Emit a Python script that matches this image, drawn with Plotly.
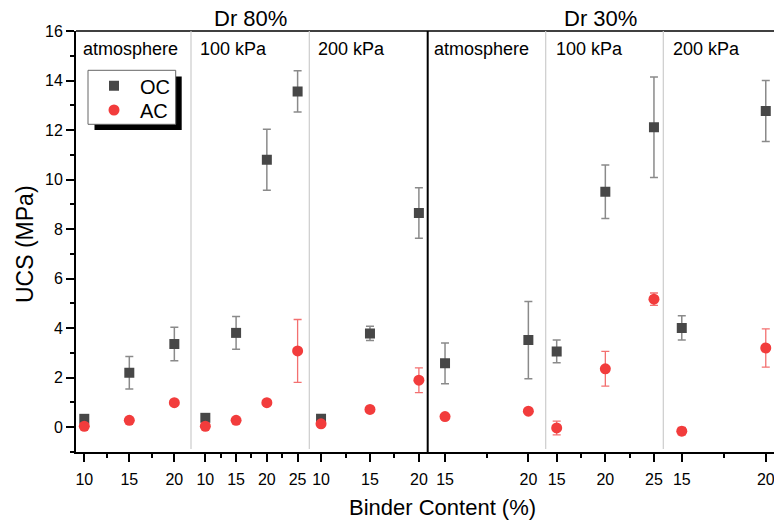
import plotly.graph_objects as go

# ---------------- data ----------------
density_groups = ["Dr 80%", "Dr 30%"]
pressure_labels = ["atmosphere", "100 kPa", "200 kPa", "atmosphere", "100 kPa", "200 kPa"]

binder_p1 = [10, 15, 20]
binder_p2 = [10, 15, 20, 25]
binder_p3 = [10, 15, 20]
binder_p4 = [15, 20]
binder_p5 = [15, 20, 25]
binder_p6 = [15, 20]

oc_p1 = [0.34, 2.20, 3.36]
oc_p2 = [0.38, 3.81, 10.80, 13.56]
oc_p3 = [0.34, 3.79, 8.65]
oc_p4 = [2.58, 3.52]
oc_p5 = [3.06, 9.51, 12.11]
oc_p6 = [4.01, 12.77]

oc_err_p1 = [0.10, 0.66, 0.68]
oc_err_p2 = [0.10, 0.66, 1.23, 0.83]
oc_err_p3 = [0.10, 0.29, 1.02]
oc_err_p4 = [0.82, 1.56]
oc_err_p5 = [0.46, 1.08, 2.03]
oc_err_p6 = [0.49, 1.23]

ac_p1 = [0.04, 0.28, 0.99]
ac_p2 = [0.04, 0.28, 0.99, 3.08]
ac_p3 = [0.14, 0.72, 1.90]
ac_p4 = [0.43, 0.65]
ac_p5 = [-0.03, 2.36, 5.17]
ac_p6 = [-0.16, 3.20]

ac_err_p1 = [0.10, 0.05, 0.05]
ac_err_p2 = [0.10, 0.05, 0.05, 1.27]
ac_err_p3 = [0.10, 0.10, 0.50]
ac_err_p4 = [0.05, 0.05]
ac_err_p5 = [0.28, 0.70, 0.25]
ac_err_p6 = [0.15, 0.77]

binders = [binder_p1, binder_p2, binder_p3, binder_p4, binder_p5, binder_p6]
oc_vals = [oc_p1, oc_p2, oc_p3, oc_p4, oc_p5, oc_p6]
oc_errs = [oc_err_p1, oc_err_p2, oc_err_p3, oc_err_p4, oc_err_p5, oc_err_p6]
ac_vals = [ac_p1, ac_p2, ac_p3, ac_p4, ac_p5, ac_p6]
ac_errs = [ac_err_p1, ac_err_p2, ac_err_p3, ac_err_p4, ac_err_p5, ac_err_p6]

# ---------------- layout helpers ----------------
W, H = 774, 521
L, R, T, B = 76, 0, 31, 69
PW, PH = W - L - R, H - T - B

def px_x(px):
    return (px - L) / PW

def px_y(py):
    return (H - B - py) / PH

panel_edges_px = [76, 191, 309.3, 427.7, 545.7, 663.3, 774]
x_ranges = [[9.08, 21.85], [7.67, 26.9], [8.8, 20.9], [13.96, 21.04], [13.87, 25.96], [13.9, 20.49]]

FONT = "Liberation Sans, Arial, sans-serif"
OC_COLOR = "#474747"
AC_COLOR = "#f23c3c"

fig = go.Figure()

for i in range(6):
    xa = "x" if i == 0 else f"x{i+1}"
    fig.add_trace(go.Scatter(
        x=binders[i], y=oc_vals[i], xaxis=xa, yaxis="y", mode="markers",
        name="OC", legendgroup="OC", showlegend=(i == 0), legend="legend",
        marker=dict(symbol="square", size=10, color=OC_COLOR),
        error_y=dict(type="data", array=oc_errs[i], color="#8a8a8a", thickness=1.5, width=4),
    ))
for i in range(6):
    xa = "x" if i == 0 else f"x{i+1}"
    fig.add_trace(go.Scatter(
        x=binders[i], y=ac_vals[i], xaxis=xa, yaxis="y", mode="markers",
        name="AC", legendgroup="AC", showlegend=(i == 0), legend="legend2",
        marker=dict(symbol="circle", size=11, color=AC_COLOR),
        error_y=dict(type="data", array=ac_errs[i], color="#f37070", thickness=1.3, width=4),
    ))

legend_style = dict(
    xanchor="left", yanchor="middle",
    bgcolor="rgba(0,0,0,0)", borderwidth=0,
    font=dict(size=20, family=FONT, color="black"), itemwidth=42,
)

layout = dict(
    width=W, height=H,
    margin=dict(l=L, r=R, t=T, b=B, pad=0),
    paper_bgcolor="white", plot_bgcolor="white",
    font=dict(family=FONT, size=16, color="black"),
    showlegend=True,
    legend=dict(x=px_x(88), y=px_y(85.7), **legend_style),
    legend2=dict(x=px_x(88), y=px_y(110), **legend_style),
    yaxis=dict(
        range=[-1, 16], anchor="x", tickmode="linear", tick0=0, dtick=2,
        showline=True, linecolor="black", linewidth=2,
        ticks="outside", ticklen=8, tickwidth=1.5, tickcolor="black",
        minor=dict(ticks="outside", ticklen=4, tickwidth=1.5, tickcolor="black", dtick=1, tick0=0),
        showgrid=False, zeroline=False, tickfont=dict(size=16),
    ),
)

for i in range(6):
    key = "xaxis" if i == 0 else f"xaxis{i+1}"
    layout[key] = dict(
        domain=[px_x(panel_edges_px[i]), px_x(panel_edges_px[i + 1])],
        range=x_ranges[i], anchor="y",
        tickmode="linear", tick0=0, dtick=5,
        showline=True, linecolor="black", linewidth=2,
        ticks="outside", ticklen=8, tickwidth=1.5, tickcolor="black",
        minor=dict(ticks="outside", ticklen=4, tickwidth=1.5, tickcolor="black", dtick=2.5, tick0=0),
        showgrid=False, zeroline=False, tickfont=dict(size=16),
        ticklabelstandoff=4, ticklabeloverflow="allow",
    )

fig.update_layout(**layout)

shapes = []
# top frame line
shapes.append(dict(type="line", xref="paper", yref="paper", x0=0, x1=1, y0=1, y1=1,
                   line=dict(color="black", width=1.5)))
# dividers
for j, px in enumerate(panel_edges_px[1:-1]):
    if j == 2:
        shapes.append(dict(type="line", xref="paper", yref="paper", x0=px_x(px), x1=px_x(px),
                           y0=0, y1=1, line=dict(color="black", width=2)))
    else:
        shapes.append(dict(type="line", xref="paper", yref="paper", x0=px_x(px), x1=px_x(px),
                           y0=px_y(449), y1=1, line=dict(color="#cccccc", width=1.2)))
# legend shadow and box
shapes.append(dict(type="rect", xref="paper", yref="paper", x0=px_x(94.5), x1=px_x(181.7),
                   y0=px_y(130), y1=px_y(76.5), fillcolor="black", line=dict(width=0), layer="above"))
shapes.append(dict(type="rect", xref="paper", yref="paper", x0=px_x(88), x1=px_x(175.7),
                   y0=px_y(124.3), y1=px_y(70.3), fillcolor="white",
                   line=dict(color="#666666", width=1), layer="above"))
fig.update_layout(shapes=shapes)

ann = []
label_shift = [5, 7, 7, 4, 8, 8]
for i, lab in enumerate(pressure_labels):
    xr = "x domain" if i == 0 else f"x{i+1} domain"
    ann.append(dict(text=lab, xref=xr, yref="paper", x=0, y=px_y(49), xanchor="left",
                    yanchor="middle", xshift=label_shift[i], showarrow=False,
                    font=dict(size=18, family=FONT, color="black")))
group_center_px = [250, 600]
for k, g in enumerate(density_groups):
    ann.append(dict(text=g, xref="paper", yref="paper", x=px_x(group_center_px[k]), y=px_y(19),
                    xanchor="center", yanchor="middle", showarrow=False,
                    font=dict(size=22, family=FONT, color="black")))
ann.append(dict(text="Binder Content (%)", xref="paper", yref="paper", x=px_x(442.8), y=px_y(507),
                xanchor="center", yanchor="middle", showarrow=False,
                font=dict(size=22, family=FONT, color="black")))
ann.append(dict(text="UCS (MPa)", xref="paper", yref="paper", x=px_x(25), y=px_y(244),
                xanchor="center", yanchor="middle", textangle=-90, showarrow=False,
                font=dict(size=23, family=FONT, color="black")))
fig.update_layout(annotations=ann)

fig.write_html("out.html")
